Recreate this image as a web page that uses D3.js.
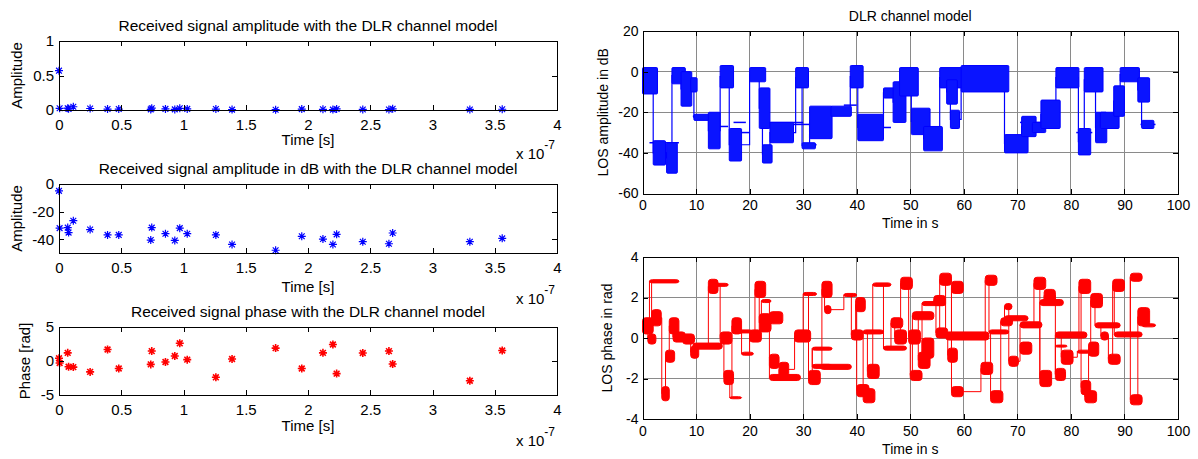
<!DOCTYPE html>
<html><head><meta charset="utf-8">
<script src="https://cdn.jsdelivr.net/npm/d3@7"></script>
<style>
body{margin:0;background:#fff}
text{font-family:Arial,"Liberation Sans",sans-serif;fill:#000}
</style>
</head><body>
<svg id="chart" width="1198" height="459"></svg>
<script>
// ---------- Data: left column (impulse response taps) ----------
const tapDelay = [0, 0.005, 0.07, 0.077, 0.115, 0.25, 0.39, 0.48, 0.745, 0.737, 0.855, 0.93, 0.97, 1.03, 1.26, 1.39, 1.74, 1.95, 2.12, 2.2, 2.23, 2.44, 2.65, 2.68, 3.3, 3.56]; // x 1e-7 s
const tapAmplitude = [0.57, 0.025, 0.026, 0.017, 0.047, 0.022, 0.014, 0.014, 0.026, 0.009, 0.016, 0.009, 0.025, 0.016, 0.014, 0.006, 0.004, 0.013, 0.010, 0.006, 0.015, 0.008, 0.007, 0.017, 0.008, 0.011];
const tapAmplitudeDb = [-5, -32, -31.6, -35.2, -26.6, -33, -36.9, -36.9, -31.6, -40.6, -36, -40.9, -32, -36, -36.9, -43.8, -48, -37.9, -39.9, -43.8, -36.5, -41.8, -43.3, -35.5, -41.8, -39.4];
const tapPhase = [0.4, -0.3, 1.2, -0.85, -0.9, -1.6, 1.7, -1.1, 1.46, -0.5, -0.15, 0.73, 2.6, 0.2, -2.4, 0.3, 1.9, -1.1, 1.2, 2.43, -1.85, 1.17, 1.46, -0.45, -2.9, 1.55];
const delayTicks = [0, 0.5, 1, 1.5, 2, 2.5, 3, 3.5, 4];
const delayTickLabels = ["0", "0.5", "1", "1.5", "2", "2.5", "3", "3.5", "4"];
const ampTicks = [0, 0.5, 1];
const ampTickLabels = ["0", "0.5", "1"];
const dbTicks = [-40, -20, 0];
const dbTickLabels = ["-40", "-20", "0"];
const phaseTicks = [-5, 0, 5];
const phaseTickLabels = ["-5", "0", "5"];

// ---------- Data: right column (LOS time series) ----------
// amplitude blocks: [t start (s), t end (s), upper dB, lower dB]
const losAmpBlocks = [
 [0,2.8,2,-11],[2.0,4.3,-34,-46],[4.5,6.5,-35,-50],[5.5,8.0,2,-6],[7.2,9.2,0,-17],[9.0,10.2,-3,-10],
 [9.6,12.7,-21,-24],[12.3,14.5,-20,-38],[14.5,17.0,3,-8],[16.2,18.5,-28,-44],[20.0,23.0,2,-5],
 [21.8,23.8,-8,-28],[22.4,24.2,-36,-45],[23.8,28.2,-25,-35],[28.6,31.0,2,-8],[29.8,32.3,-35,-38],
 [31.2,35.4,-17,-33],[35.2,39.0,-17,-22],[38.8,41.2,3,-8],[40.2,45.0,-21,-34],[45.0,48.0,-8,-13],
 [46.8,49.2,-5,-25],[48.0,51.5,2,-12],[50.2,53.7,-18,-31],[52.5,56.0,-27,-39],[55.5,61.8,2,-8],
 [56.8,58.8,-4,-16],[57.5,59.2,-19,-28],[59.5,68.4,3,-10],[67.6,72.0,-31,-40],[70.8,73.5,-22,-32],
 [72.8,75.3,-25,-30],[74.4,78.0,-14,-28],[77.2,81.5,2,-8],[81.4,83.7,-28,-41],[82.5,86.0,2,-10],
 [84.6,86.7,-20,-35],[85.5,89.0,-20,-28],[88.0,90.0,-7,-22],[89.2,92.8,2,-5],[92.5,94.7,-3,-15],
 [93.2,95.5,-24,-28]
];
// amplitude hold lines: [t start, t end, level dB]
const losAmpHolds = [
 [1.3,6.8,-35],[9.4,12.7,-22],[13.4,16.0,-27],[17.0,19.3,-25],[17.8,20.0,-30],[23.5,30.0,-25],
 [28.0,32.0,-26],[30.0,32.5,-36],[34.0,38.3,-19],[37.6,40.0,-16.5],[44.0,46.4,-27.5],[45.0,48.0,-9],
 [61.0,68.0,1],[70.5,76.0,-25],[81.0,84.0,-30],[85.0,89.0,-21],[93.0,95.8,-26]
];
// phase blocks: [t start, t end, lower rad, upper rad]
const losPhaseBlocks = [
 [0,2.0,0.2,1.0],[1.0,2.5,-0.3,0.2],[1.3,6.8,2.72,2.88],[1.7,3.5,0.6,1.4],[3.6,5.0,-3.1,-2.4],
 [4.3,6.0,-1.2,-0.6],[5.0,6.8,0.2,1.0],[5.7,8.0,-0.2,0.3],[7.5,9.7,-0.3,0.2],[9.0,10.5,-1.0,-0.4],
 [9.4,14.9,-0.55,-0.25],[12.3,14.1,2.2,2.9],[13.4,16.0,2.55,2.7],[14.5,16.7,-0.3,0.3],[15.2,17.0,-2.3,-1.6],
 [16.3,18.5,-3.0,-2.9],[16.7,18.5,0.2,1.0],[17.8,20.5,0.25,0.4],[18.5,20.7,-0.85,-0.7],[20.0,22.2,-0.2,0.4],
 [21.0,23.0,2.0,2.8],[22.2,24.0,1.75,1.9],[21.8,24.0,0.3,1.2],[23.7,26.2,0.7,1.3],[23.7,25.5,-1.5,-0.8],
 [23.7,29.5,-2.1,-1.8],[25.5,27.3,-1.9,-1.2],[28.4,31.4,-0.2,0.4],[30.0,32.5,2.1,2.25],[31.0,33.2,-2.3,-1.6],
 [31.7,35.4,-0.6,-0.45],[31.7,35.4,-1.5,-1.3],[33.2,39.0,-1.55,-1.3],[33.5,35.4,2.0,2.8],[34.0,35.2,1.2,1.6],
 [37.6,40.0,2.05,2.2],[39.0,41.2,-0.1,0.4],[39.8,41.6,1.3,2.0],[40.0,42.3,-2.9,-2.3],[41.2,43.4,-3.2,-2.5],
 [42.0,44.2,-2.0,-1.3],[41.2,45.0,0.2,0.4],[43.0,46.4,2.55,2.72],[45.0,49.3,-0.6,-0.4],[46.4,48.6,0.5,1.0],
 [47.1,49.3,-0.3,0.4],[48.2,50.4,2.4,3.0],[49.7,51.9,-0.3,0.4],[50.0,52.2,-2.1,-1.6],[50.4,54.4,0.9,1.3],
 [51.5,53.7,-1.5,-0.7],[52.2,54.4,-1.0,0.0],[52.2,56.6,1.6,1.8],[54.4,56.6,1.6,2.1],[55.5,57.7,2.6,3.2],
 [54.8,57.0,0.0,0.5],[57.0,58.8,-1.2,-0.5],[57.7,59.9,2.2,2.8],[57.7,59.9,-2.9,-2.4],[56.6,64.7,-0.1,0.3],
 [63.2,65.4,-1.8,-1.2],[64.0,66.2,2.6,3.1],[65.0,67.3,-3.2,-2.6],[64.7,68.4,0.2,0.4],[66.9,69.1,0.6,1.0],
 [67.6,72.0,0.85,1.1],[67.6,69.0,1.4,1.7],[68.4,70.2,-1.4,-0.9],[70.5,72.7,-0.8,-0.2],[70.5,74.6,0.5,0.8],
 [73.1,75.3,2.4,3.0],[74.2,76.4,-2.4,-1.6],[75.0,77.1,1.8,2.4],[74.2,78.6,1.6,1.9],[77.1,79.0,-2.1,-1.5],
 [77.1,79.3,-0.45,-0.35],[78.2,80.4,-1.3,-0.6],[77.1,83.0,0.0,0.3],[81.2,83.7,-0.75,-0.6],[81.5,83.7,2.2,2.9],
 [81.9,83.7,-2.8,-2.1],[82.6,84.8,-3.2,-2.6],[83.3,85.2,-0.9,-0.2],[83.7,85.9,1.5,2.2],[84.5,89.2,0.5,0.75],
 [85.6,87.0,-0.1,0.3],[87.0,89.2,-1.3,-0.8],[87.8,90.0,2.3,2.9],[88.1,93.3,0.05,0.3],[91.1,93.3,2.8,3.2],
 [91.1,93.3,-3.3,-2.8],[92.5,94.7,0.6,1.5],[93.3,95.8,0.55,0.7]
];
const timeTicks = [0,10,20,30,40,50,60,70,80,90,100];
const timeTickLabels = ["0","10","20","30","40","50","60","70","80","90","100"];
const losAmpTicks = [-60,-40,-20,0,20];
const losAmpTickLabels = ["-60","-40","-20","0","20"];
const losPhaseTicks = [-4,-2,0,2,4];
const losPhaseTickLabels = ["-4","-2","0","2","4"];

// ---------- Drawing ----------
const svg = d3.select("#chart");
const FONT_L = 15, FONT_R = 14;

function frame(o) {
  const x = d3.scaleLinear().domain(o.xd).range([o.x0, o.x1]);
  const y = d3.scaleLinear().domain(o.yd).range([o.y1, o.y0]);
  if (o.grid) {
    const g = svg.append("g");
    g.append("g").selectAll("line").data(o.xt.slice(1, -1)).join("line")
      .attr("x1", d => x(d)).attr("x2", d => x(d)).attr("y1", o.y0).attr("y2", o.y1)
      .attr("stroke", "#8a8a8a").attr("stroke-width", 1).attr("shape-rendering", "crispEdges");
    g.append("g").selectAll("line").data(o.yt.filter(d => d > o.yd[0] && d < o.yd[1])).join("line")
      .attr("y1", d => y(d)).attr("y2", d => y(d)).attr("x1", o.x0).attr("x2", o.x1)
      .attr("stroke", "#8a8a8a").attr("stroke-width", 1).attr("shape-rendering", "crispEdges");
  }
  const dataG = svg.append("g");
  const axG = svg.append("g");
  const fs = o.fs;
  const fmtX = d => o.xl[o.xt.indexOf(d)];
  const fmtY = d => o.yl[o.yt.indexOf(d)];
  const ax = (gen, tx, ty) => {
    const a = axG.append("g").attr("transform", `translate(${tx},${ty})`).call(gen.tickSizeOuter(0));
    a.attr("font-size", fs).attr("font-family", "Arial, 'Liberation Sans', sans-serif");
    a.select(".domain").attr("stroke", "#000").attr("shape-rendering", "crispEdges");
    a.selectAll(".tick line").attr("stroke", "#000").attr("shape-rendering", "crispEdges");
    a.selectAll("text").attr("fill", "#000");
    return a;
  };
  ax(d3.axisBottom(x).tickValues(o.xt).tickSize(-5).tickPadding(o.xpad).tickFormat(fmtX), 0, o.y1);
  ax(d3.axisTop(x).tickValues(o.xt).tickSize(-5).tickFormat(() => ""), 0, o.y0);
  ax(d3.axisLeft(y).tickValues(o.yt).tickSize(-5).tickPadding(o.ypad).tickFormat(fmtY), o.x0, 0);
  ax(d3.axisRight(y).tickValues(o.yt).tickSize(-5).tickFormat(() => ""), o.x1, 0);
  if (o.title) svg.append("text").attr("x", (o.x0 + o.x1) / 2).attr("y", o.titleY).attr("text-anchor", "middle")
    .attr("font-size", o.tfs).text(o.title);
  svg.append("text").attr("x", (o.x0 + o.x1) / 2).attr("y", o.xlabY).attr("text-anchor", "middle")
    .attr("font-size", fs).text(o.xlab);
  svg.append("text").attr("transform", `translate(${o.ylabX},${(o.y0 + o.y1) / 2}) rotate(-90)`)
    .attr("text-anchor", "middle").attr("font-size", fs).text(o.ylab);
  return {x, y, g: dataG};
}

const L = {x0: 59, x1: 557, xpad: 9, ypad: 5};
const R = {x0: 642.5, x1: 1178, xpad: 7, ypad: 4};

function expLabel(yb) {
  const t = svg.append("text").attr("x", 555).attr("y", yb).attr("text-anchor", "end").attr("font-size", FONT_L);
  t.append("tspan").text("x 10");
  t.append("tspan").attr("dy", -10).attr("font-size", 12).text("-7");
}

function asterisk(g, x, y, xs, ys, color, sw) {
  const s = 4;
  const k = s * 0.72;
  g.selectAll(null).data(xs.map((d, i) => [d, ys[i]])).join("path")
    .attr("transform", d => `translate(${x(d[0])},${y(d[1])})`)
    .attr("d", `M${-s},0H${s}M0,${-s}V${s}M${-k},${-k}L${k},${k}M${-k},${k}L${k},${-k}`)
    .attr("fill", "none").attr("stroke", color).attr("stroke-width", sw);
}

// Panel 1
const p1 = frame({...L, y0: 41, y1: 110, xd: [0, 4], yd: [0, 1], xt: delayTicks, xl: delayTickLabels,
  yt: ampTicks, yl: ampTickLabels, fs: FONT_L, tfs: 15.5,
  title: "Received signal amplitude with the DLR channel model", titleY: 31,
  xlab: "Time [s]", xlabY: 145, ylab: "Amplitude", ylabX: 22});
asterisk(p1.g, p1.x, p1.y, tapDelay, tapAmplitude, "#0000ff", 1.2);
expLabel(159);

// Panel 2
const p2 = frame({...L, y0: 184, y1: 253, xd: [0, 4], yd: [-50, 0], xt: delayTicks, xl: delayTickLabels,
  yt: dbTicks, yl: dbTickLabels, fs: FONT_L, tfs: 15.5,
  title: "Received signal amplitude in dB with the DLR channel model", titleY: 174,
  xlab: "Time [s]", xlabY: 292, ylab: "Amplitude", ylabX: 22});
asterisk(p2.g, p2.x, p2.y, tapDelay, tapAmplitudeDb, "#0000ff", 1.2);
expLabel(304);

// Panel 3
const p3 = frame({...L, y0: 327, y1: 395, xd: [0, 4], yd: [-5, 5], xt: delayTicks, xl: delayTickLabels,
  yt: phaseTicks, yl: phaseTickLabels, fs: FONT_L, tfs: 15.5,
  title: "Received signal phase with the DLR channel model", titleY: 317,
  xlab: "Time [s]", xlabY: 431, ylab: "Phase [rad]", ylabX: 30});
asterisk(p3.g, p3.x, p3.y, tapDelay, tapPhase, "#ff0000", 1.6);
expLabel(446);

// Right top
const r1 = frame({...R, y0: 31, y1: 193.5, xd: [0, 100], yd: [-60, 20], xt: timeTicks, xl: timeTickLabels,
  yt: losAmpTicks, yl: losAmpTickLabels, fs: FONT_R, tfs: FONT_R, grid: true,
  title: "DLR channel model", titleY: 21,
  xlab: "Time in s", xlabY: 228, ylab: "LOS amplitude in dB", ylabX: 608});
{
  const {x, y, g} = r1;
  const sorted = d3.sort(losAmpBlocks, d => d[0]);
  const pts = sorted.map(d => [d[0], (d[2] + d[3]) / 2]);
  pts.push([sorted[sorted.length - 1][1], pts[pts.length - 1][1]]);
  g.append("path").attr("d", d3.line().x(d => x(d[0])).y(d => y(d[1])).curve(d3.curveStepAfter)(pts))
    .attr("fill", "none").attr("stroke", "#0000ff").attr("stroke-width", 1.2);
  g.selectAll(null).data(losAmpHolds).join("line")
    .attr("x1", d => x(d[0])).attr("x2", d => x(d[1])).attr("y1", d => y(d[2])).attr("y2", d => y(d[2]))
    .attr("stroke", "#0000ff").attr("stroke-width", 1.5);
  g.selectAll(null).data(losAmpBlocks).join("rect")
    .attr("x", d => x(d[0])).attr("width", d => x(d[1]) - x(d[0]))
    .attr("y", d => y(d[2])).attr("height", d => y(d[3]) - y(d[2]))
    .attr("fill", "#0a14ff").attr("stroke", "#0000ff").attr("stroke-width", 1).attr("rx", 1);
}

// Right bottom
const r2 = frame({...R, y0: 257, y1: 419, xd: [0, 100], yd: [-4, 4], xt: timeTicks, xl: timeTickLabels,
  yt: losPhaseTicks, yl: losPhaseTickLabels, fs: FONT_R, tfs: FONT_R, grid: true,
  title: "", titleY: 250,
  xlab: "Time in s", xlabY: 454, ylab: "LOS phase in rad", ylabX: 612});
{
  const {x, y, g} = r2;
  const sorted = d3.sort(losPhaseBlocks, d => d[0]);
  const pts = sorted.map(d => [d[0], (d[2] + d[3]) / 2]);
  pts.push([sorted[sorted.length - 1][1], pts[pts.length - 1][1]]);
  g.append("path").attr("d", d3.line().x(d => x(d[0])).y(d => y(d[1])).curve(d3.curveStepAfter)(pts))
    .attr("fill", "none").attr("stroke", "#ff0000").attr("stroke-width", 1);
  g.selectAll(null).data(losPhaseBlocks).join("rect")
    .attr("x", d => x(d[0])).attr("width", d => x(d[1]) - x(d[0]))
    .attr("y", d => y(d[3])).attr("height", d => Math.max(2, y(d[2]) - y(d[3])))
    .attr("fill", "#ff0000").attr("stroke", "#ff0000").attr("stroke-width", 1).attr("rx", 3);
}
</script>
</body></html>
